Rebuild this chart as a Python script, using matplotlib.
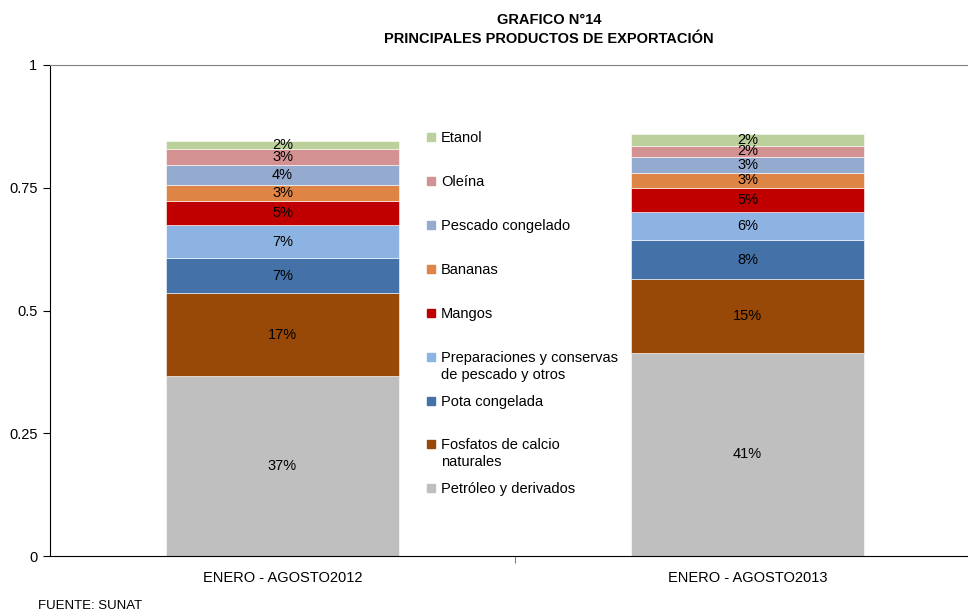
import matplotlib.pyplot as plt
from matplotlib.patches import Rectangle

plt.rcParams['font.family'] = ['Liberation Sans', 'DejaVu Sans']

# Data (shares of total exports)
periods = ["ENERO - AGOSTO2012", "ENERO - AGOSTO2013"]
products = ["Petróleo y derivados", "Fosfatos de calcio\nnaturales", "Pota congelada",
            "Preparaciones y conservas\nde pescado y otros", "Mangos", "Bananas",
            "Pescado congelado", "Oleína", "Etanol"]
share_2012 = [0.367, 0.168, 0.072, 0.067, 0.050, 0.031, 0.041, 0.032, 0.018]
share_2013 = [0.414, 0.150, 0.079, 0.057, 0.050, 0.031, 0.031, 0.024, 0.023]
colors = ["#BFBFBF", "#984807", "#4472A8", "#8DB3E2", "#C00000", "#DE8444",
          "#94AACF", "#D39191", "#BBD09A"]

fig = plt.figure(figsize=(9.68, 6.16), dpi=100)
ax = fig.add_axes([50 / 968, 1 - 556 / 616, 930 / 968, 491 / 616])

x = [0, 1]
bottoms = [0.0, 0.0]
for i, name in enumerate(products):
    vals = [share_2012[i], share_2013[i]]
    ax.bar(x, vals, width=0.5, bottom=bottoms, color=colors[i],
           edgecolor="white", linewidth=0.4)
    for j in range(2):
        ax.text(x[j], bottoms[j] + vals[j] / 2, f"{vals[j]:.0%}", ha="center",
                va="center", fontsize=10.5, color="black")
    bottoms = [bottoms[0] + vals[0], bottoms[1] + vals[1]]

ax.set_xlim(-0.5, 1.5)
ax.set_ylim(0, 1)
ax.set_yticks([0, 0.25, 0.5, 0.75, 1])
ax.set_yticklabels(["0", "0.25", "0.5", "0.75", "1"])
ax.set_xticks([0.5])
ax.set_xticklabels([])
ax.tick_params(axis="x", length=5, direction="out", color="#808080")
ax.tick_params(axis="y", length=5, direction="out", labelsize=10.5, pad=4)
for j, p in enumerate(periods):
    ax.text(x[j], -0.045, p, ha="center", va="center", fontsize=10.5)
ax.spines["right"].set_visible(False)
ax.spines["top"].set_color("#808080")
ax.spines["left"].set_color("black")
ax.spines["bottom"].set_color("black")

# legend drawn by hand (Excel-style list in the middle)
leg_y = [137, 181, 225, 269, 313, 357, 401, 444, 488]
leg_order = list(range(len(products)))[::-1]
for k, idx in enumerate(leg_order):
    yp = leg_y[k]
    fig.patches.append(Rectangle((427 / 968, 1 - (yp + 4) / 616), 8 / 968, 8 / 616,
                                 transform=fig.transFigure, color=colors[idx]))
    fig.text(441 / 968, 1 - (yp - 6) / 616, products[idx], ha="left", va="top",
             fontsize=10.5, linespacing=1.3)

fig.text(549 / 968, 1 - 29.5 / 616, "GRAFICO N°14\nPRINCIPALES PRODUCTOS DE EXPORTACIÓN",
         ha="center", va="center", fontsize=10.5, fontweight="bold", linespacing=1.5)
fig.text(38 / 968, 1 - 606 / 616, "FUENTE: SUNAT", ha="left", va="center", fontsize=9.5)

fig.savefig("out.png", dpi=100)
